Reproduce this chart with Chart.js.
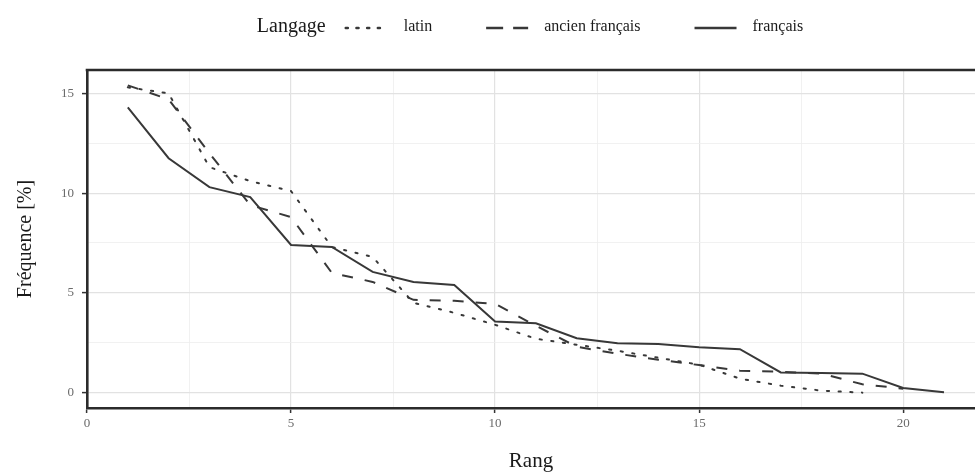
<!DOCTYPE html>
<html>
<head>
<meta charset="utf-8">
<script src="https://cdn.jsdelivr.net/npm/chart.js@4/dist/chart.umd.min.js"></script>
<style>
  html, body { margin: 0; padding: 0; background: #fff; overflow: hidden; }
  #wrap { width: 975px; height: 474px; position: relative; }
</style>
</head>
<body>
<div id="wrap"><canvas id="c" width="975" height="474"></canvas></div>
<script>
// ---- data ----
const rangs = [1, 2, 3, 4, 5, 6, 7, 8, 9, 10, 11, 12, 13, 14, 15, 16, 17, 18, 19, 20, 21];
const latin = [15.3, 15.0, 11.3, 10.6, 10.1, 7.3, 6.8, 4.5, 4.0, 3.4, 2.7, 2.4, 2.1, 1.75, 1.4, 0.7, 0.35, 0.1, 0.0];
const ancienFrancais = [15.4, 14.7, 12.0, 9.4, 8.8, 6.0, 5.55, 4.65, 4.6, 4.45, 3.35, 2.3, 1.95, 1.65, 1.38, 1.1, 1.05, 0.95, 0.42, 0.2];
const francais = [14.3, 11.75, 10.3, 9.8, 7.4, 7.3, 6.05, 5.55, 5.4, 3.56, 3.48, 2.73, 2.48, 2.44, 2.28, 2.18, 1.01, 0.98, 0.95, 0.23, 0.02];
const seriesNames = ['latin', 'ancien français', 'français'];
const legendTitle = 'Langage';
const xMajorTicks = [0, 5, 10, 15, 20];
const xMinorTicks = [2.5, 7.5, 12.5, 17.5];
const yMajorTicks = [0, 5, 10, 15];
const yMinorTicks = [2.5, 7.5, 12.5];
const xTitle = 'Rang';
const yTitle = 'Fréquence [%]';

const SERIF = '"Liberation Serif", "DejaVu Serif", serif';
const LINE = '#383838';

function pts(vals) { return vals.map((v, i) => ({ x: rangs[i], y: v })); }
function tickList(major, minor) {
  return major.concat(minor).sort((a, b) => a - b).map(v => ({ value: v }));
}
const isMajor = (v) => Math.abs(v / 5 - Math.round(v / 5)) < 1e-9;

const styles = [
  { dash: [2.2, 9.5], cap: 'round', legendDash: [2.2, 8.5] },
  { dash: [11, 12], cap: 'butt', legendDash: [17, 10] },
  { dash: [], cap: 'butt', legendDash: [] }
];

const legendPlugin = {
  id: 'customLegend',
  afterDraw(chart) {
    const ctx = chart.ctx;
    const ca = chart.chartArea;
    ctx.save();
    // top border of the panel
    ctx.strokeStyle = '#2b2b2b';
    ctx.lineWidth = 2.6;
    ctx.beginPath();
    ctx.moveTo(ca.left - 1.3, ca.top);
    ctx.lineTo(chart.width, ca.top);
    ctx.stroke();

    // legend
    const y = 27;
    const titleFont = '20px ' + SERIF;
    const itemFont = '16px ' + SERIF;
    const keyW = 46, gapTitle = 18, gapKey = 14, gapItem = 52;
    ctx.font = titleFont;
    const tw = ctx.measureText(legendTitle).width;
    ctx.font = itemFont;
    const widths = seriesNames.map(n => ctx.measureText(n).width);
    let total = tw + gapTitle;
    widths.forEach((w, i) => { total += keyW + gapKey + w + (i < widths.length - 1 ? gapItem : 0); });
    let x = 530 - total / 2;
    ctx.textBaseline = 'middle';
    ctx.textAlign = 'left';
    ctx.fillStyle = '#1a1a1a';
    ctx.font = titleFont;
    ctx.fillText(legendTitle, x, y);
    x += tw + gapTitle;
    ctx.font = itemFont;
    seriesNames.forEach((n, i) => {
      const s = styles[i];
      ctx.strokeStyle = LINE;
      ctx.lineWidth = 2.4;
      ctx.lineCap = s.cap;
      ctx.setLineDash(s.legendDash);
      ctx.beginPath();
      ctx.moveTo(x + 2, y + 1);
      ctx.lineTo(x + keyW - 2, y + 1);
      ctx.stroke();
      ctx.setLineDash([]);
      x += keyW + gapKey;
      ctx.fillStyle = '#1a1a1a';
      ctx.fillText(n, x, y);
      x += widths[i] + gapItem;
    });
    ctx.restore();
  }
};

const seriesData = [latin, ancienFrancais, francais];
const datasets = seriesData.map((vals, i) => ({
  label: seriesNames[i],
  data: pts(vals),
  borderColor: LINE,
  borderWidth: 2,
  borderDash: styles[i].dash,
  borderCapStyle: styles[i].cap,
  pointRadius: 0,
  tension: 0,
  fill: false
}));

new Chart(document.getElementById('c'), {
  type: 'line',
  data: { datasets },
  plugins: [legendPlugin],
  options: {
    responsive: false,
    animation: false,
    devicePixelRatio: 1,
    layout: { padding: { top: 70, right: 0, left: 0, bottom: 0 } },
    plugins: { legend: { display: false }, tooltip: { enabled: false } },
    scales: {
      x: {
        type: 'linear',
        min: 0,
        max: 21.76,
        afterBuildTicks: (axis) => { axis.ticks = tickList(xMajorTicks, xMinorTicks); },
        afterFit: (axis) => { axis.height = 66; },
        border: { display: true, color: '#2b2b2b', width: 2.6 },
        grid: {
          color: (c) => isMajor(c.tick.value) ? '#e2e2e2' : '#eeeeee',
          lineWidth: (c) => isMajor(c.tick.value) ? 1.2 : 0.8,
          tickColor: (c) => isMajor(c.tick.value) ? '#333' : 'rgba(0,0,0,0)',
          tickLength: 5,
          tickWidth: 1.5
        },
        ticks: {
          autoSkip: false,
          maxRotation: 0,
          padding: 3,
          color: '#6a6a6a',
          font: { family: SERIF, size: 13 },
          callback: (v) => isMajor(v) ? String(v) : ''
        },
        title: {
          display: true,
          text: xTitle,
          color: '#1a1a1a',
          font: { family: SERIF, size: 21 },
          padding: { top: 0, bottom: 0 }
        }
      },
      y: {
        type: 'linear',
        min: -0.77,
        max: 16.17,
        afterBuildTicks: (axis) => { axis.ticks = tickList(yMajorTicks, yMinorTicks); },
        afterFit: (axis) => { axis.width = 87; },
        border: { display: true, color: '#2b2b2b', width: 2.6 },
        grid: {
          color: (c) => isMajor(c.tick.value) ? '#e2e2e2' : '#eeeeee',
          lineWidth: (c) => isMajor(c.tick.value) ? 1.2 : 0.8,
          tickColor: (c) => isMajor(c.tick.value) ? '#333' : 'rgba(0,0,0,0)',
          tickLength: 5,
          tickWidth: 1.5
        },
        ticks: {
          autoSkip: false,
          padding: 8,
          color: '#6a6a6a',
          font: { family: SERIF, size: 13 },
          callback: (v) => isMajor(v) ? String(v) : ''
        },
        title: {
          display: true,
          text: yTitle,
          color: '#1a1a1a',
          font: { family: SERIF, size: 20 },
          padding: { top: 14, bottom: 0 }
        }
      }
    }
  }
});
</script>
</body>
</html>
